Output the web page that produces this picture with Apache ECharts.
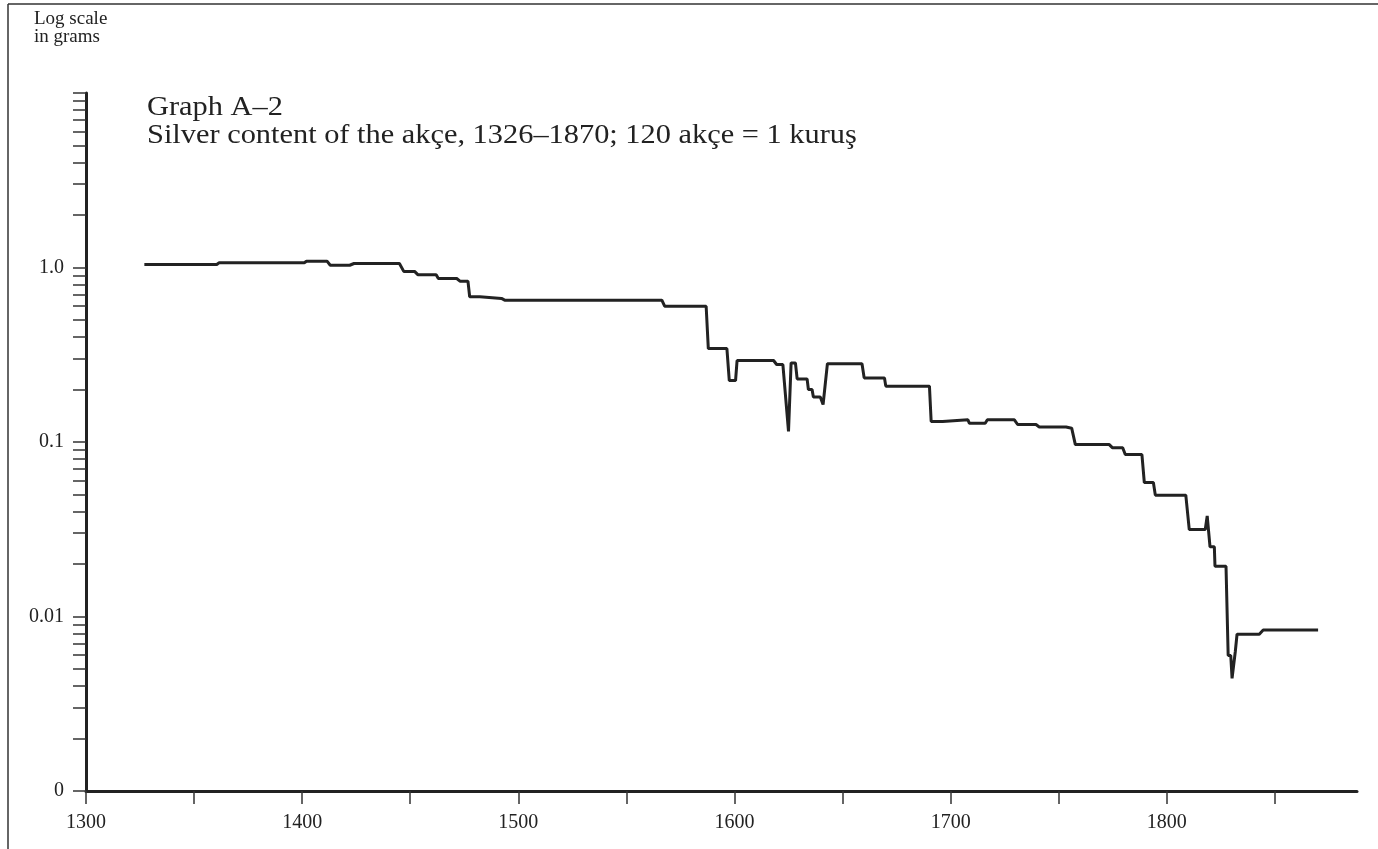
<!DOCTYPE html>
<html>
<head>
    <meta charset="UTF-8">
    <title>Graph A-2</title>
    <style>
        html, body { margin: 0; padding: 0; background: #ffffff; }
        #main { width: 1378px; height: 849px; }
    </style>
</head>
<body>
<div id="main"></div>
<script src="https://cdn.jsdelivr.net/npm/echarts@6/dist/echarts.min.js"></script>
<script type="text/javascript">

    // years of the corners of the line
    var years = [
        1327, 1360.5, 1361.5, 1401, 1402, 1411.5, 1413, 1422, 1424, 1445,
        1447, 1452, 1453.5, 1462, 1463, 1471.5, 1473, 1476.7, 1477.5, 1482.2,
        1483.1, 1492.2, 1493.7, 1566.4, 1567.7, 1586.9, 1587.9, 1596.5, 1597.6, 1600.5,
        1601.2, 1618.1, 1619.5, 1622.4, 1625, 1626.2, 1628.2, 1629, 1633.6, 1634.2,
        1635.9, 1636.5, 1639.7, 1641, 1643, 1659, 1660, 1669.4, 1670, 1690.2,
        1691, 1696.3, 1697, 1708, 1708.7, 1716, 1717, 1729.5, 1731, 1739.5,
        1741, 1753.4, 1756, 1756.8, 1757.7, 1773.4, 1774.8, 1779.6, 1780.8, 1788.5,
        1789.6, 1793.8, 1794.7, 1808.8, 1810.4, 1817.8, 1818.7, 1820, 1822, 1822.3,
        1827.4, 1828.4, 1829.6, 1830.2, 1831.7, 1832.5, 1842.8, 1844.6, 1870
    ];
    // silver content in grams
    var grams = [
        1.04, 1.04, 1.064, 1.064, 1.087, 1.087, 1.03, 1.03, 1.054, 1.054,
        0.95, 0.95, 0.91, 0.91, 0.865, 0.865, 0.835, 0.835, 0.68, 0.68,
        0.665, 0.665, 0.65, 0.65, 0.6, 0.6, 0.343, 0.343, 0.225, 0.225,
        0.293, 0.293, 0.278, 0.278, 0.115, 0.284, 0.284, 0.23, 0.23, 0.2,
        0.2, 0.181, 0.181, 0.164, 0.281, 0.281, 0.233, 0.233, 0.209, 0.209,
        0.131, 0.131, 0.134, 0.134, 0.128, 0.128, 0.134, 0.134, 0.126, 0.126,
        0.122, 0.122, 0.12, 0.12, 0.0966, 0.0966, 0.0928, 0.0928, 0.0847, 0.0847,
        0.0586, 0.0586, 0.0496, 0.0496, 0.0315, 0.0315, 0.0377, 0.0251, 0.0251, 0.0194,
        0.0194, 0.00598, 0.00598, 0.00442, 0.0063, 0.00791, 0.00791, 0.00836, 0.00836
    ];

    var xTicks = [1300, 1350, 1400, 1450, 1500, 1550, 1600, 1650, 1700, 1750, 1800, 1850];
    var xLabels = [1300, 1400, 1500, 1600, 1700, 1800];
    var yLabels = [0.001, 0.01, 0.1, 1];
    var yLabelText = ['0', '0.01', '0.1', '1.0'];

    // log ticks: 1..9 in every decade, then 10 at the top
    var yTicks = [];
    yLabels.forEach(function (d) {
        for (var k = 1; k <= 9; k++) {
            yTicks.push(parseFloat((k * d).toPrecision(6)));
        }
    });
    yTicks.push(10);

    var lineData = years.map(function (y, i) { return [y, grams[i]]; });

    var myChart = echarts.init(document.getElementById('main'));
    var ink = '#222222';
    var serif = '"Liberation Serif", "DejaVu Serif", serif';

    var option = {
        backgroundColor: '#ffffff',
        animation: false,
        grid: {
            left: 86,
            right: 21,
            top: 93,
            bottom: 58
        },
        xAxis: {
            type: 'value',
            min: 1300,
            max: 1888,
            splitLine: { show: false },
            axisLine: { show: true, lineStyle: { color: ink, width: 3 } },
            axisTick: {
                show: true,
                length: 13,
                customValues: xTicks,
                lineStyle: { color: '#333', width: 1.5 }
            },
            axisLabel: {
                customValues: xLabels,
                margin: 22,
                color: ink,
                fontFamily: serif,
                fontSize: 20,
                formatter: function (v) { return String(v); }
            }
        },
        yAxis: {
            type: 'log',
            logBase: 10,
            min: 0.001,
            max: 10,
            splitLine: { show: false },
            axisLine: { show: true, lineStyle: { color: ink, width: 3 } },
            axisTick: {
                show: true,
                length: 13,
                customValues: yTicks,
                lineStyle: { color: '#333', width: 1.5 }
            },
            axisLabel: {
                customValues: yLabels,
                margin: 22,
                color: ink,
                fontFamily: serif,
                fontSize: 20,
                formatter: function (v) {
                    for (var i = 0; i < yLabels.length; i++) {
                        if (Math.abs(v - yLabels[i]) < yLabels[i] * 1e-6) return yLabelText[i];
                    }
                    return '';
                }
            }
        },
        graphic: [
            // frame on the top and left edges
            { type: 'line', shape: { x1: 8, y1: 4, x2: 1378, y2: 4 }, style: { stroke: '#333', lineWidth: 1.5 } },
            { type: 'line', shape: { x1: 8, y1: 4, x2: 8, y2: 849 }, style: { stroke: '#333', lineWidth: 1.5 } },
            {
                type: 'text', left: 34, top: 10,
                style: { text: 'Log scale\nin grams', fill: ink, font: '19px ' + serif, lineHeight: 18 }
            },
            {
                type: 'text', x: 147, y: 94, scaleX: 1.085,
                style: { text: 'Graph A\u20132', fill: ink, font: '28px ' + serif }
            },
            {
                type: 'text', x: 147, y: 122, scaleX: 1.085,
                style: { text: 'Silver content of the ak\u00e7e, 1326\u20131870; 120 ak\u00e7e = 1 kuru\u015f', fill: ink, font: '28px ' + serif }
            }
        ],
        series: [
            {
                type: 'line',
                data: lineData,
                symbol: 'none',
                lineStyle: { color: ink, width: 3 }
            }
        ]
    };
    myChart.setOption(option);

</script>
</body>
</html>
